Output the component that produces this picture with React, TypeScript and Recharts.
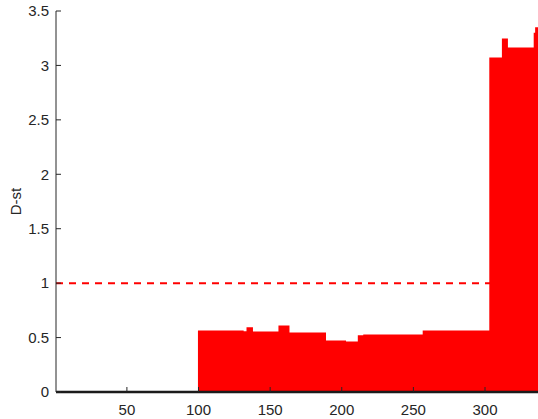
import React from "react";
import { ComposedChart, Area, XAxis, YAxis, ReferenceLine } from "recharts";

// Step segments: start position on x and the D-st value held until the next start
const segmentStarts = [0.5, 99.6, 131.5, 133.5, 138, 155.8, 163.5, 189, 203, 211.2, 215, 256.5, 303, 311.8, 316, 334, 335];
const segmentValues = [0, 0.565, 0.558, 0.595, 0.556, 0.611, 0.547, 0.473, 0.464, 0.522, 0.528, 0.565, 3.073, 3.247, 3.165, 3.3, 3.35];
const xStart = 0.5;
const xEnd = 337;
const xTicks = [50, 100, 150, 200, 250, 300];
const yTicks = [0, 0.5, 1, 1.5, 2, 2.5, 3, 3.5];
const yTickLabels = ["0", "0.5", "1", "1.5", "2", "2.5", "3", "3.5"];
const threshold = 1;

const data = segmentStarts
  .map((x, i) => ({ x, d: segmentValues[i] }))
  .concat([{ x: xEnd, d: segmentValues[segmentValues.length - 1] }]);

const FONT = "'Liberation Sans', Arial, Helvetica, sans-serif";
const AXIS = "#262626";
const TICK_LEN = 5;
const FS = 15;

const BottomTick = (props: any) => {
  const { x, y, payload } = props;
  return (
    <g>
      <line x1={x} y1={y} x2={x} y2={y - TICK_LEN} stroke={AXIS} strokeWidth={1} />
      <text x={x} y={y + 23} textAnchor="middle" fill={AXIS} fontSize={FS} fontFamily={FONT}>
        {payload.value}
      </text>
    </g>
  );
};

const TopTick = (props: any) => {
  const { x, y } = props;
  return <line x1={x} y1={y} x2={x} y2={y + TICK_LEN} stroke={AXIS} strokeWidth={1} />;
};

const LeftTick = (props: any) => {
  const { x, y, payload, index } = props;
  return (
    <g>
      <line x1={x} y1={y} x2={x + TICK_LEN} y2={y} stroke={AXIS} strokeWidth={1} />
      <text x={x - 7} y={y + 5.3} textAnchor="end" fill={AXIS} fontSize={FS} fontFamily={FONT}>
        {yTickLabels[index] ?? payload.value}
      </text>
    </g>
  );
};

const YLabel = (props: any) => {
  const vb = props.viewBox || { x: 0, y: 0, width: 0, height: 0 };
  const cy = vb.y + vb.height / 2;
  const cx = 20.5;
  return (
    <text
      x={cx}
      y={cy}
      transform={`rotate(-90 ${cx} ${cy})`}
      textAnchor="middle"
      fill={AXIS}
      fontSize={FS}
      fontFamily={FONT}
    >
      D-st
    </text>
  );
};

export default function App() {
  return (
    <div style={{ position: "absolute", left: 0, top: 0, width: 538, height: 419, background: "#fff" }}>
      <ComposedChart width={538} height={419} data={data} margin={{ top: 11, right: 0, bottom: 0, left: 0 }}>
        <XAxis
          dataKey="x"
          type="number"
          domain={[xStart, xEnd]}
          ticks={xTicks}
          allowDataOverflow
          height={27}
          tickSize={0}
          tickMargin={0}
          tickLine={false}
          tick={<BottomTick />}
          axisLine={{ stroke: AXIS }}
        />
        <XAxis
          xAxisId="top"
          orientation="top"
          dataKey="x"
          type="number"
          domain={[xStart, xEnd]}
          ticks={xTicks}
          allowDataOverflow
          height={0}
          tickSize={0}
          tickMargin={0}
          tickLine={false}
          tick={<TopTick />}
          axisLine={{ stroke: AXIS }}
        />
        <YAxis
          type="number"
          domain={[0, 3.5]}
          ticks={yTicks}
          width={56}
          tickSize={0}
          tickMargin={0}
          tickLine={false}
          tick={<LeftTick />}
          axisLine={{ stroke: AXIS }}
          label={<YLabel />}
        />
        <Area
          type="stepAfter"
          dataKey="d"
          fill="#ff0000"
          fillOpacity={1}
          stroke="none"
          isAnimationActive={false}
          dot={false}
          activeDot={false}
        />
        <ReferenceLine y={0} stroke="#111" strokeWidth={2.5} />
        <ReferenceLine y={threshold} stroke="#ff0000" strokeWidth={2} strokeDasharray="7 6" />
      </ComposedChart>
    </div>
  );
}
